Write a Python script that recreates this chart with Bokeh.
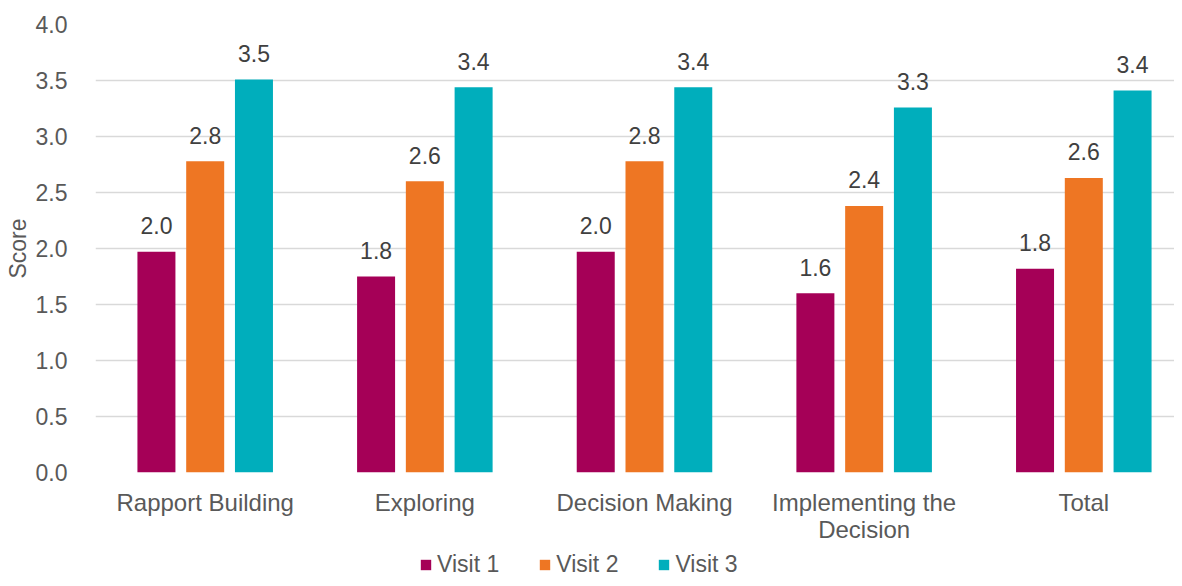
from bokeh.plotting import figure
from bokeh.layouts import column
from bokeh.models import (ColumnDataSource, FixedTicker, Legend, LegendItem, Range1d,
                          PrintfTickFormatter)
from bokeh.core.properties import value
from bokeh.transform import dodge
from bokeh.embed import file_html
from bokeh.resources import INLINE

# ---- data ----
categories = ["Rapport Building", "Exploring", "Decision Making",
              "Implementing the\nDecision", "Total"]
visit1 = [1.97, 1.75, 1.97, 1.60, 1.82]
visit2 = [2.78, 2.60, 2.78, 2.38, 2.63]
visit3 = [3.51, 3.44, 3.44, 3.26, 3.41]
series_names = ["Visit 1", "Visit 2", "Visit 3"]
series_colors = ["#A50057", "#EE7623", "#00AEBC"]
y_ticks = [0.0, 0.5, 1.0, 1.5, 2.0, 2.5, 3.0, 3.5, 4.0]
y_label = "Score"

FONT = "Liberation Sans"
FS = "23px"

xs = list(range(len(categories)))
series = [visit1, visit2, visit3]
data = {"x": xs}
for i, s in enumerate(series):
    data[f"v{i}"] = s
    data[f"t{i}"] = [f"{v:.1f}" for v in s]
source = ColumnDataSource(data)

MAIN_H = 546
FRAME_L = 95
p = figure(width=1174, height=MAIN_H, output_backend="svg", toolbar_location=None,
           x_range=Range1d(-0.4994, 4.4129), y_range=Range1d(0, 4.0),
           min_border_left=FRAME_L, min_border_right=0, min_border_top=24,
           min_border_bottom=MAIN_H - 472)
p.outline_line_color = None
p.background_fill_color = "white"
p.border_fill_color = "white"

BAR_W = 0.173
OFF = 0.222
for i, (name, col) in enumerate(zip(series_names, series_colors)):
    off = OFF * (i - 1)
    p.vbar(x=dodge("x", off, range=p.x_range), top=f"v{i}", width=BAR_W,
           source=source, fill_color=col, line_color=None)
    p.text(x=dodge("x", off, range=p.x_range), y=f"v{i}", text=f"t{i}", source=source,
           text_align="center", text_baseline="alphabetic", y_offset=-26,
           text_font=value(FONT), text_font_size=FS, text_color="#404040")

# axes
p.xaxis.ticker = FixedTicker(ticks=xs)
p.xaxis.major_label_overrides = {x: c for x, c in zip(xs, categories)}
p.yaxis.ticker = FixedTicker(ticks=y_ticks)
p.yaxis.formatter = PrintfTickFormatter(format="%.1f")

for ax in (p.xaxis[0], p.yaxis[0]):
    ax.axis_line_color = None
    ax.major_tick_line_color = None
    ax.minor_tick_line_color = None
    ax.major_label_text_font = FONT
    ax.major_label_text_font_size = FS
    ax.major_label_text_color = "#595959"

p.xaxis.major_label_text_font_size = "24px"
p.xaxis.major_label_text_line_height = 1.0
p.xaxis.major_label_standoff = 10
p.yaxis.major_label_standoff = 22
p.yaxis.axis_label = y_label
p.yaxis.axis_label_text_font = FONT
p.yaxis.axis_label_text_font_size = FS
p.yaxis.axis_label_text_font_style = "normal"
p.yaxis.axis_label_text_color = "#595959"
p.yaxis.axis_label_standoff = 2

p.xgrid.grid_line_color = None
p.ygrid.grid_line_color = "#D9D9D9"
p.ygrid.grid_line_width = 1.5

# ---- legend strip ----
LEG_H = 578 - MAIN_H
lp = figure(width=1174, height=LEG_H, output_backend="svg", toolbar_location=None,
            x_range=Range1d(0, 1), y_range=Range1d(0, 1),
            x_axis_location=None, y_axis_location=None,
            min_border_left=FRAME_L, min_border_right=0, min_border_top=0, min_border_bottom=0)
lp.outline_line_color = None
lp.xgrid.visible = False
lp.ygrid.visible = False
lp.border_fill_color = "white"
leg_renderers = []
for name, col in zip(series_names, series_colors):
    # a swatch renderer placed outside the visible range, used only by the legend
    r = lp.vbar(x=[5], top=[5], width=0.1, fill_color=col, line_color=None)
    leg_renderers.append(r)

legend = Legend(items=[LegendItem(label=n, renderers=[r]) for n, r in zip(series_names, leg_renderers)],
                orientation="horizontal", location=(419 - FRAME_L, 0), padding=0, margin=0,
                spacing=39, label_standoff=5, glyph_width=13, glyph_height=13,
                label_text_font=FONT, label_text_font_size=FS, label_text_color="#595959",
                border_line_color=None, background_fill_alpha=0)
lp.add_layout(legend, "center")

layout = column(p, lp, spacing=0)
open("out.html", "w").write(file_html(layout, INLINE))
